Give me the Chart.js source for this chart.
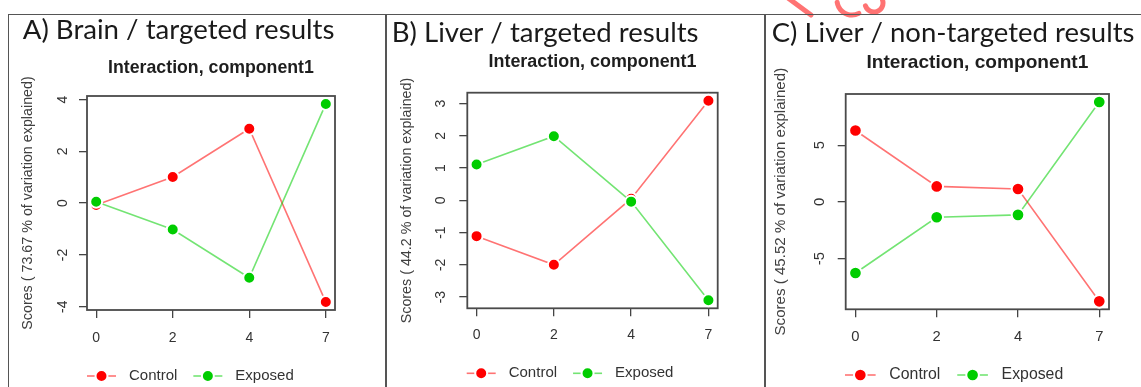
<!DOCTYPE html>
<html>
<head>
<meta charset="utf-8">
<title>Interaction, component1</title>
<script src="https://cdn.jsdelivr.net/npm/chart.js@4.4.1/dist/chart.umd.min.js"></script>
<style>
  html, body { margin: 0; padding: 0; background: #fff; }
  body { width: 1141px; height: 387px; position: relative; overflow: hidden; }
  .rule { position: absolute; background: #555; }
  canvas.panel { position: absolute; top: 15px; }
  #flourish { position: absolute; left: 0; top: 0; }
</style>
</head>
<body>
<canvas id="flourish" width="1141" height="30"></canvas>
<div class="rule" style="left:8px; top:13.5px; width:1133px; height:1.5px"></div>
<div class="rule" style="left:7.5px; top:14px; width:1.5px; height:373px"></div>
<div class="rule" style="left:385px; top:14px; width:2px; height:373px"></div>
<div class="rule" style="left:764px; top:14px; width:2px; height:373px"></div>

<canvas class="panel" id="brain" style="left:9px" width="376" height="372"></canvas>
<canvas class="panel" id="liver" style="left:387px" width="377" height="372"></canvas>
<canvas class="panel" id="nontargeted" style="left:766px" width="375" height="372"></canvas>

<script>
// ---- data -------------------------------------------------------------
const days = ['0', '2', '4', '7'];
const seriesNames = ['Control', 'Exposed'];

const brainControl = [-0.07, 1.01, 2.87, -3.82];
const brainExposed = [0.05, -1.02, -2.88, 3.83];

const liverControl = [-1.11, -2.00, 0.05, 3.09];
const liverExposed = [1.11, 1.99, -0.04, -3.10];

const nontargetedControl = [6.30, 1.37, 1.14, -8.77];
const nontargetedExposed = [-6.27, -1.35, -1.14, 8.82];

const brainTicks = [-4, -2, 0, 2, 4];
const liverTicks = [-3, -2, -1, 0, 1, 2, 3];
const nontargetedTicks = [-5, 0, 5];

const panelHeadings = [
  'A) Brain / targeted results',
  'B) Liver / targeted results',
  'C) Liver / non-targeted results'
];
const plotTitle = 'Interaction, component1';
const variancePct = ['73.67', '44.2', '45.52'];

// ---- fonts & colours --------------------------------------------------
const SANS = '"Liberation Sans", Arial, Helvetica, sans-serif';
const HEAD = 'Lato, Carlito, Calibri, sans-serif';
const RED = '#ff0000';
const GREEN = '#00cd00';

const meter = document.createElement('canvas').getContext('2d');
function textWidth(text, font) {
  meter.font = font;
  return meter.measureText(text).width;
}
function fitFontSize(text, weight, family, target) {
  const base = 20;
  return base * target / textWidth(text, `${weight} ${base}px ${family}`);
}

// ---- red flourish along the top edge -----------------------------------
(function drawFlourish() {
  const c = document.getElementById('flourish').getContext('2d');
  c.strokeStyle = 'rgba(255, 90, 90, 0.85)';
  c.lineWidth = 5;
  c.lineCap = 'round';
  c.beginPath();
  c.moveTo(788, -2);
  c.lineTo(811, 15);
  c.stroke();
  c.beginPath();
  c.arc(852, 0, 15, 0.35 * Math.PI, 0.95 * Math.PI);
  c.stroke();
  c.beginPath();
  c.arc(874, 3, 9, -0.1 * Math.PI, 0.9 * Math.PI);
  c.stroke();
})();

// ---- per-panel geometry (canvas pixels) -------------------------------
const frames = [
  { width: 376, area: [78, 81, 326, 295], headX: 13.7, headBase: 24, headW: 312,
    subMid: 53, subW: 206, yTitleX: 19, yTitleShift: 0, yLabelGap: 24, xLabelGap: 28,
    legendY: 361, legendShift: 0, k: 1 },
  { width: 377, area: [80.3, 77.7, 330.7, 293.3], headX: 4.7, headBase: 26.5, headW: 307,
    subMid: 47.5, subW: 208, yTitleX: 20, yTitleShift: 0, yLabelGap: 26.5, xLabelGap: 26.4,
    legendY: 358.3, legendShift: -0.6, k: 1 },
  { width: 375, area: [79.7, 79, 343, 294.3], headX: 5.7, headBase: 26.5, headW: 363,
    subMid: 47.8, subW: 222, yTitleX: 15, yTitleShift: 0, yLabelGap: 26.2, xLabelGap: 27.7,
    legendY: 360, legendShift: -0.7, k: 1.056 }
];
const CANVAS_H = 372;

// ---- plugins ----------------------------------------------------------
const plotBox = {
  id: 'plotBox',
  beforeDatasetsDraw(chart, args, o) {
    const { ctx, chartArea: a } = chart;
    ctx.save();
    ctx.strokeStyle = o.color;
    ctx.lineWidth = o.width;
    ctx.strokeRect(a.left, a.top, a.right - a.left, a.bottom - a.top);
    ctx.restore();
  }
};

const panelHeading = {
  id: 'panelHeading',
  afterDraw(chart, args, o) {
    const ctx = chart.ctx;
    ctx.save();
    ctx.font = `${o.size}px ${HEAD}`;
    ctx.fillStyle = o.color;
    ctx.textAlign = 'left';
    ctx.textBaseline = 'alphabetic';
    ctx.fillText(o.text, o.x, o.y);
    ctx.restore();
  }
};

const axisTitleY = {
  id: 'axisTitleY',
  afterDraw(chart, args, o) {
    const { ctx, chartArea: a } = chart;
    ctx.save();
    ctx.translate(o.x, (a.top + a.bottom) / 2 + o.shift);
    ctx.rotate(-Math.PI / 2);
    ctx.font = `${o.size}px ${SANS}`;
    ctx.fillStyle = o.color;
    ctx.textAlign = 'center';
    ctx.textBaseline = 'middle';
    ctx.fillText(o.text, 0, 0);
    ctx.restore();
  }
};

// line-and-point key under the plot
const seriesKey = {
  id: 'seriesKey',
  afterDraw(chart, args, o) {
    const { ctx, chartArea: a } = chart;
    const k = o.k;
    let x = a.left + o.shift;
    const y = o.y;
    ctx.save();
    ctx.font = `${o.size}px ${SANS}`;
    ctx.textBaseline = 'middle';
    ctx.textAlign = 'left';
    chart.data.datasets.forEach(ds => {
      const seg = 29 * k;
      ctx.strokeStyle = ds.borderColor;
      ctx.lineWidth = ds.borderWidth;
      ctx.beginPath();
      ctx.moveTo(x, y);
      ctx.lineTo(x + seg, y);
      ctx.stroke();
      ctx.beginPath();
      ctx.arc(x + seg / 2, y, ds.pointRadius, 0, Math.PI * 2);
      ctx.fillStyle = ds.pointBackgroundColor;
      ctx.fill();
      ctx.lineWidth = ds.pointBorderWidth;
      ctx.strokeStyle = ds.pointBorderColor;
      ctx.stroke();
      x += seg + 13 * k;
      ctx.fillStyle = o.color;
      ctx.fillText(ds.label, x, y);
      x += ctx.measureText(ds.label).width + 16 * k;
    });
    ctx.restore();
  }
};

// ---- build one panel --------------------------------------------------
function buildPanel(canvasId, f, control, exposed, yTicks, heading, pct) {
  const [L, T, R, B] = f.area;
  const k = f.k;
  const all = control.concat(exposed);
  const lo = Math.min(...all), hi = Math.max(...all);
  const ext = 0.04 * (hi - lo);

  const tickSize = 14 * k;
  const tickLen = 8;
  const tickFontStr = `${tickSize}px ${SANS}`;
  const widest = Math.max(...yTicks.map(v => textWidth(String(v), tickFontStr)));
  const yPad = f.yLabelGap - tickLen - widest / 2;
  const xPad = f.xLabelGap - tickLen - tickSize * 1.2 / 2;

  const subSize = fitFontSize(plotTitle, 'bold', SANS, f.subW);
  const subLH = subSize * 1.2;
  const headSize = fitFontSize(heading, 'normal', HEAD, f.headW);

  const toPoints = vals => vals.map((v, i) => ({ x: i + 1, y: v }));
  const lineStyle = {
    borderWidth: 1.6,
    pointRadius: 6 * k,
    pointHoverRadius: 6 * k,
    pointBorderColor: '#ffffff',
    pointBorderWidth: 2,
    tension: 0,
    fill: false
  };

  const axisGrid = {
    display: true,
    drawOnChartArea: false,
    drawTicks: true,
    tickLength: tickLen,
    color: '#444',
    lineWidth: 1.3
  };

  return new Chart(document.getElementById(canvasId), {
    type: 'line',
    data: {
      datasets: [
        Object.assign({
          label: seriesNames[0],
          data: toPoints(control),
          borderColor: 'rgba(255, 0, 0, 0.55)',
          pointBackgroundColor: RED,
          order: 1
        }, lineStyle),
        Object.assign({
          label: seriesNames[1],
          data: toPoints(exposed),
          borderColor: 'rgba(0, 205, 0, 0.55)',
          pointBackgroundColor: GREEN,
          order: 0
        }, lineStyle)
      ]
    },
    options: {
      responsive: false,
      animation: false,
      devicePixelRatio: 1,
      events: [],
      layout: { padding: { left: 0, top: 0, right: f.width - R, bottom: 0 } },
      scales: {
        x: {
          type: 'linear',
          position: 'bottom',
          min: 0.88,
          max: 4.12,
          afterBuildTicks: s => { s.ticks = days.map((d, i) => ({ value: i + 1 })); },
          afterFit: s => { s.height = CANVAS_H - B; },
          ticks: {
            autoSkip: false,
            maxRotation: 0,
            minRotation: 0,
            padding: xPad,
            color: '#333',
            font: { family: SANS, size: tickSize },
            callback: v => days[Math.round(v) - 1]
          },
          grid: axisGrid,
          border: { display: false }
        },
        y: {
          type: 'linear',
          position: 'left',
          min: lo - ext,
          max: hi + ext,
          afterBuildTicks: s => { s.ticks = yTicks.map(v => ({ value: v })); },
          afterFit: s => { s.width = L; },
          ticks: {
            minRotation: 90,
            maxRotation: 90,
            crossAlign: 'center',
            padding: yPad,
            color: '#333',
            font: { family: SANS, size: tickSize },
            callback: v => String(v)
          },
          grid: axisGrid,
          border: { display: false }
        }
      },
      plugins: {
        legend: { display: false },
        tooltip: { enabled: false },
        title: {
          display: true,
          text: plotTitle,
          fullSize: false,
          align: 'center',
          color: '#1e1e1e',
          font: { family: SANS, weight: 'bold', size: subSize, lineHeight: 1.2 },
          padding: { top: f.subMid - subLH / 2, bottom: T - f.subMid - subLH / 2 }
        },
        plotBox: { color: '#4a4a4a', width: 1.8 },
        panelHeading: { text: heading, x: f.headX, y: f.headBase, size: headSize, color: '#1a1a1a' },
        axisTitleY: {
          text: `Scores ( ${pct} % of variation explained)`,
          x: f.yTitleX,
          shift: f.yTitleShift,
          size: 14.3 * k,
          color: '#404040'
        },
        seriesKey: { y: f.legendY, shift: f.legendShift, size: 15 * k, k: k, color: '#333' }
      }
    },
    plugins: [plotBox, panelHeading, axisTitleY, seriesKey]
  });
}

buildPanel('brain', frames[0], brainControl, brainExposed, brainTicks, panelHeadings[0], variancePct[0]);
buildPanel('liver', frames[1], liverControl, liverExposed, liverTicks, panelHeadings[1], variancePct[1]);
buildPanel('nontargeted', frames[2], nontargetedControl, nontargetedExposed, nontargetedTicks, panelHeadings[2], variancePct[2]);
</script>
</body>
</html>
